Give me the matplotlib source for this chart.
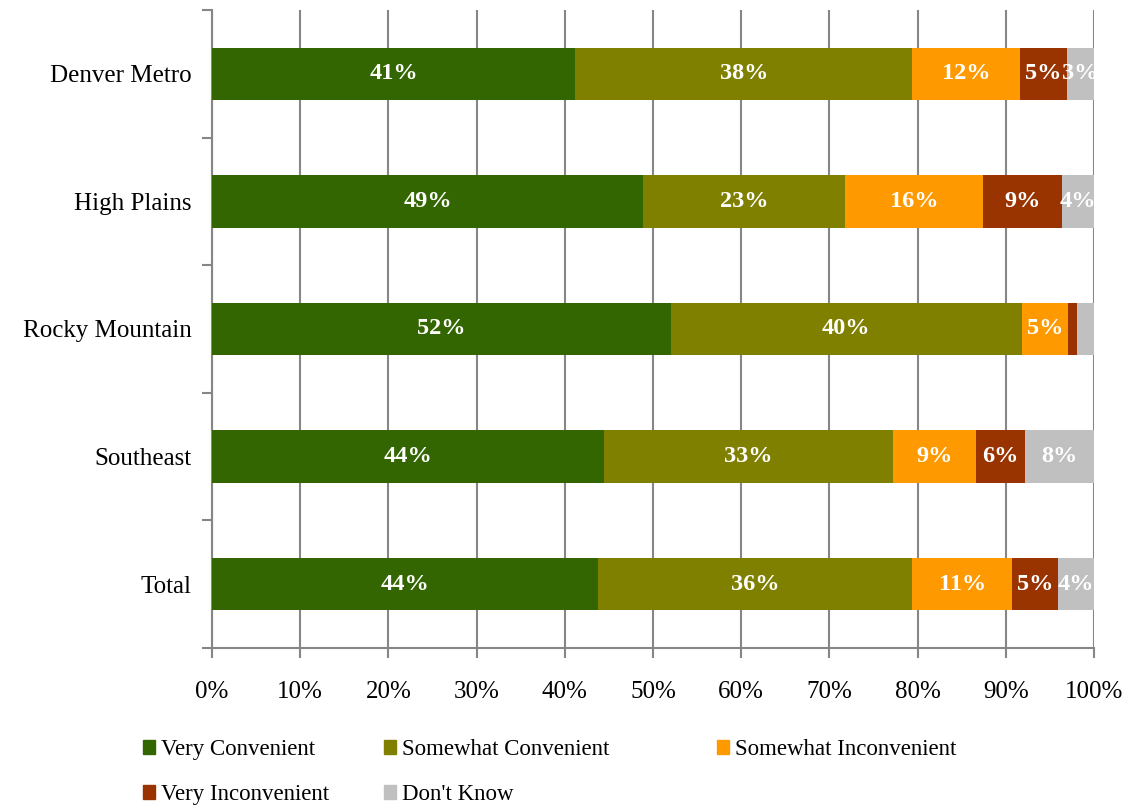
import matplotlib.pyplot as plt
from matplotlib.patches import Patch

regions = ["Denver Metro", "High Plains", "Rocky Mountain", "Southeast", "Total"]
answers = ["Very Convenient", "Somewhat Convenient", "Somewhat Inconvenient",
           "Very Inconvenient", "Don't Know"]

very_conv = [41.2, 48.9, 52.0, 44.4, 43.8]
somewhat_conv = [38.2, 22.9, 39.8, 32.8, 35.6]
somewhat_inconv = [12.2, 15.6, 5.3, 9.4, 11.3]
very_inconv = [5.3, 9.0, 1.0, 5.6, 5.2]
dont_know = [3.1, 3.6, 1.9, 7.8, 4.1]

colors = ["#336600", "#808000", "#FF9900", "#993300", "#C0C0C0"]

plt.rcParams['font.family'] = ['Liberation Serif', 'DejaVu Serif']

fig = plt.figure(figsize=(11.33, 8.07), dpi=100)
ax = fig.add_axes([212 / 1133, 1 - 648 / 807, (1094 - 212) / 1133, 638 / 807])

series = [very_conv, somewhat_conv, somewhat_inconv, very_inconv, dont_know]
ypos = list(range(len(regions)))
left = [0.0] * len(regions)
handles = []
for name, vals, col in zip(answers, series, colors):
    bars = ax.barh(ypos, vals, left=left, height=0.41, color=col, zorder=3, label=name)
    for b, v in zip(bars, vals):
        if v >= 2.5:
            ax.text(b.get_x() + b.get_width() / 2, b.get_y() + b.get_height() / 2,
                    f"{round(v)}%", ha='center', va='center', color='white',
                    fontsize=17.5, fontweight='bold', zorder=4)
    left = [l + v for l, v in zip(left, vals)]
    handles.append(Patch(color=col, label=name))

ax.set_xlim(0, 100)
ax.set_ylim(len(regions) - 0.5, -0.5)
ax.set_xticks(range(0, 101, 10))
ax.set_xticklabels([f"{t}%" for t in range(0, 101, 10)], fontsize=18)
ax.set_yticks(ypos)
ax.set_yticklabels(regions, fontsize=18)
ax.set_yticks([i - 0.5 for i in range(len(regions) + 1)], minor=True)
ax.tick_params(axis='y', which='major', length=0, pad=14.5)
ax.tick_params(axis='y', which='minor', length=7, width=1.5, color='#868686')
ax.tick_params(axis='x', length=7, width=1.5, color='#868686', pad=17)
ax.grid(axis='x', color='#868686', linewidth=1.5, zorder=0)
for s in ['top', 'right']:
    ax.spines[s].set_visible(False)
for s in ['left', 'bottom']:
    ax.spines[s].set_color('#868686')
    ax.spines[s].set_linewidth(1.5)

# legend laid out in fixed columns like the original
cols = [[0, 3], [1, 4], [2]]
col_x = [143, 384, 717]
for idx, x in zip(cols, col_x):
    fig.legend([handles[i] for i in idx], [answers[i] for i in idx],
               loc='upper left', bbox_to_anchor=(x / 1133, 1 - 739 / 807),
               frameon=False, fontsize=16.5, borderpad=0, borderaxespad=0,
               handlelength=0.52, handleheight=0.52, handletextpad=0.25,
               labelspacing=1.05)

fig.savefig("out.png", dpi=100)
